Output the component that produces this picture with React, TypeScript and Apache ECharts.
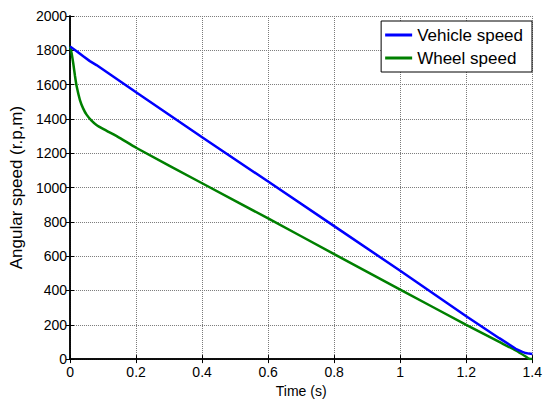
import React, { useEffect, useRef } from "react";
import * as echarts from "echarts";

const xTicks = [0, 0.2, 0.4, 0.6, 0.8, 1, 1.2, 1.4];
const yTicks = [0, 200, 400, 600, 800, 1000, 1200, 1400, 1600, 1800, 2000];

const vehicleTime = [0, 0.02, 0.04, 0.06, 0.08, 0.2, 0.4, 0.6, 0.8, 1.0, 1.2, 1.3, 1.35, 1.37, 1.38, 1.39, 1.4];
const vehicleSpeed = [1822, 1795, 1765, 1737, 1714, 1555, 1293, 1035, 775, 515, 250, 122, 60, 42, 35, 32, 30];

const wheelTime = [0, 0.005, 0.01, 0.015, 0.02, 0.03, 0.04, 0.05, 0.065, 0.08, 0.1, 0.15, 0.2, 0.4, 0.6, 0.8, 1.0, 1.2, 1.3, 1.35, 1.38, 1.39, 1.4];
const wheelSpeed = [1822, 1780, 1720, 1650, 1590, 1510, 1460, 1425, 1390, 1365, 1342, 1290, 1232, 1025, 820, 612, 405, 200, 100, 50, 15, 2, 0];

const FONT = "'Liberation Sans', Arial, sans-serif";

export default function App() {
  const ref = useRef<HTMLDivElement>(null);
  useEffect(() => {
    if (!ref.current) return;
    const chart = echarts.init(ref.current, null, { renderer: "svg" });
    const boxAxisLine = { show: true, lineStyle: { color: "#000", width: 1.5 } };
    const inTick = { show: true, inside: true, length: 4, lineStyle: { color: "#000", width: 1 } };
    const grid = { type: "dotted" as const, color: "#7a7a7a", width: 1 };
    chart.setOption({
      animation: false,
      backgroundColor: "#fff",
      textStyle: { fontFamily: FONT },
      grid: { left: 70, right: 10, top: 16, bottom: 37, containLabel: false },
      legend: {
        data: ["Vehicle speed", "Wheel speed"],
        orient: "vertical",
        right: 13,
        top: 21,
        backgroundColor: "#fff",
        borderColor: "#000",
        borderWidth: 1,
        borderRadius: 0,
        padding: [5, 9, 5, 4],
        itemGap: 5,
        itemWidth: 27,
        itemHeight: 3,
        icon: "rect",
        selectedMode: false,
        textStyle: { fontSize: 17, color: "#000", fontFamily: FONT, lineHeight: 18 },
      },
      xAxis: [
        {
          type: "value",
          min: 0,
          max: 1.4,
          interval: 0.2,
          name: "Time (s)",
          nameLocation: "middle",
          nameGap: 20,
          nameTextStyle: { fontSize: 14, color: "#000", fontFamily: FONT },
          axisLine: boxAxisLine,
          axisTick: inTick,
          axisLabel: {
            fontSize: 14,
            color: "#000",
            margin: 6,
            fontFamily: FONT,
            formatter: (v: number) => {
              const m = xTicks.find((t) => Math.abs(t - v) < 1e-6);
              return m === undefined ? "" : String(m);
            },
          },
          splitLine: { show: true, lineStyle: grid },
        },
        {
          type: "value",
          position: "top",
          min: 0,
          max: 1.4,
          interval: 0.2,
          axisLine: boxAxisLine,
          axisTick: inTick,
          axisLabel: { show: false },
          splitLine: { show: false },
        },
      ],
      yAxis: [
        {
          type: "value",
          min: 0,
          max: 2000,
          interval: 200,
          name: "Angular speed (r.p,m)",
          nameLocation: "middle",
          nameGap: 38,
          nameRotate: 90,
          nameTextStyle: { fontSize: 17, color: "#000", fontFamily: FONT },
          axisLine: boxAxisLine,
          axisTick: inTick,
          axisLabel: {
            fontSize: 14,
            color: "#000",
            margin: 3,
            fontFamily: FONT,
            formatter: (v: number) => {
              const m = yTicks.find((t) => Math.abs(t - v) < 1e-6);
              return m === undefined ? "" : String(m);
            },
          },
          splitLine: { show: true, lineStyle: grid },
        },
        {
          type: "value",
          position: "right",
          min: 0,
          max: 2000,
          interval: 200,
          axisLine: boxAxisLine,
          axisTick: inTick,
          axisLabel: { show: false },
          splitLine: { show: false },
        },
      ],
      series: [
        {
          name: "Vehicle speed",
          type: "line",
          data: vehicleTime.map((t, i) => [t, vehicleSpeed[i]]),
          showSymbol: false,
          symbol: "none",
          lineStyle: { color: "#0000ff", width: 2.5 },
          itemStyle: { color: "#0000ff" },
          z: 3,
        },
        {
          name: "Wheel speed",
          type: "line",
          data: wheelTime.map((t, i) => [t, wheelSpeed[i]]),
          showSymbol: false,
          symbol: "none",
          smooth: 0.2,
          lineStyle: { color: "#008000", width: 2.5 },
          itemStyle: { color: "#008000" },
          z: 2,
        },
      ],
    });
    return () => chart.dispose();
  }, []);
  return (
    <div
      ref={ref}
      style={{ position: "fixed", left: 0, top: 0, width: 545, height: 403, background: "#fff" }}
    />
  );
}
